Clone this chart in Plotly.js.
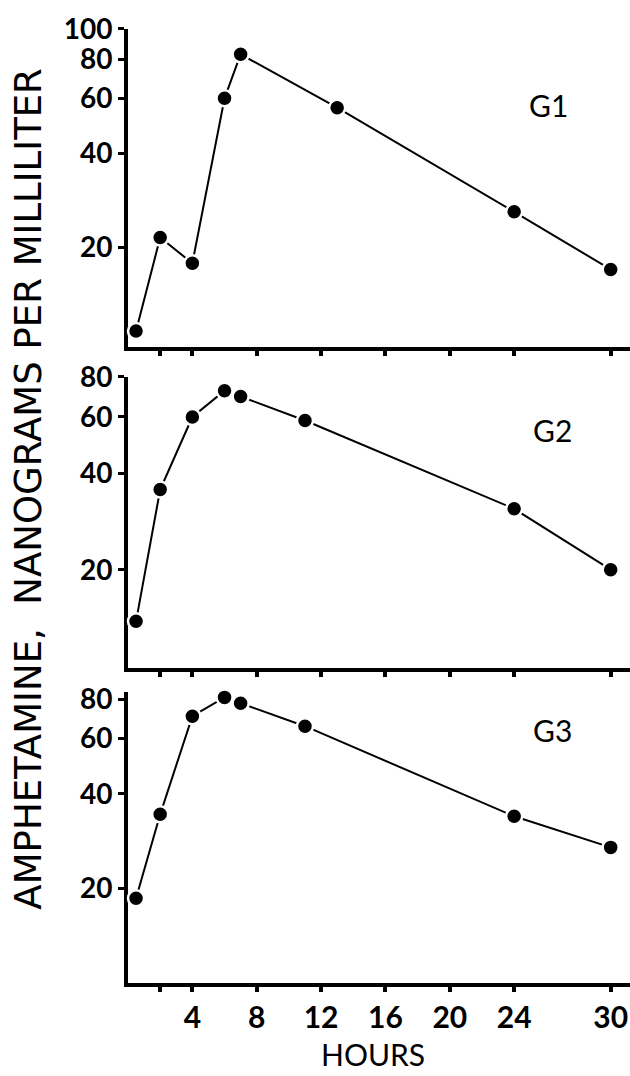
<!DOCTYPE html>
<html>
<head>
<meta charset="utf-8">
<script src="https://cdn.plot.ly/plotly-3.0.1.min.js"></script>
<style>html,body{margin:0;padding:0;background:#fff;}#chart{width:630px;height:1076px;}</style>
</head>
<body>
<div id="chart"></div>
<script>
// Data (hours, ng/mL)
const g1Hours = [0.5, 2, 4, 6, 7, 13, 24, 30];
const g1Values = [10.8, 21.5, 17.8, 60, 83, 56, 26, 17];
const g2Hours = [0.5, 2, 4, 6, 7, 11, 24, 30];
const g2Values = [13.8, 35.6, 60, 72.5, 69.5, 58.5, 31, 20];
const g3Hours = [0.5, 2, 4, 6, 7, 11, 24, 30];
const g3Values = [18.6, 34.4, 70.6, 81, 77.6, 65.6, 33.9, 27];
const groupNames = ["G1", "G2", "G3"];
const xTickVals = [2, 4, 8, 12, 16, 20, 24, 30];
const xTickText = ["", "4", "8", "12", "16", "20", "24", "30"];
const yTickVals1 = [20, 40, 60, 80, 100];
const yTickVals23 = [20, 40, 60, 80];
const yTitle = "AMPHETAMINE,  NANOGRAMS PER MILLILITER";
const xTitle = "HOURS";

const FONT = "Lato, 'DejaVu Sans', sans-serif";
const TITLEFONT = "'DejaVu Sans', sans-serif";
function trace(x, y, xa, ya) {
  return {
    x: x, y: y, xaxis: xa, yaxis: ya, type: "scatter", mode: "lines+markers",
    cliponaxis: false,
    line: {color: "#000", width: 2},
    marker: {color: "#000", size: 16, line: {color: "#fff", width: 2.5}},
    showlegend: false, hoverinfo: "skip"
  };
}
const data = [
  trace(g1Hours, g1Values, "x", "y"),
  trace(g2Hours, g2Values, "x2", "y2"),
  trace(g3Hours, g3Values, "x3", "y3")
];
function xax(showLabels, anchor) {
  return {
    range: [0, 31.2], anchor: anchor, showgrid: false, zeroline: false,
    showline: true, linecolor: "#000", linewidth: 4, layer: "below traces",
    ticks: "outside", ticklen: 5, tickwidth: 4, tickcolor: "#000",
    tickvals: xTickVals, ticktext: showLabels ? xTickText : xTickVals.map(() => ""),
    tickfont: {family: FONT, size: 30, color: "#000", weight: 700}, fixedrange: true
  };
}
function yax(domain, range, vals, anchor) {
  return {
    type: "log", domain: domain, range: range, anchor: anchor, showgrid: false, zeroline: false,
    showline: true, linecolor: "#000", linewidth: 4, layer: "below traces",
    ticks: "outside", ticklen: 6, tickwidth: 3, tickcolor: "#000",
    tickvals: vals, ticktext: vals.map(String),
    tickfont: {family: FONT, size: 28, color: "#000", weight: 700}, fixedrange: true
  };
}
const gFont = {family: FONT, size: 30, color: "#000"};
const layout = {
  width: 630, height: 1076,
  margin: {l: 128, r: 0, t: 0, b: 93},
  paper_bgcolor: "#fff", plot_bgcolor: "rgba(0,0,0,0)",
  xaxis: Object.assign(xax(false, "y"), {domain: [0, 1]}),
  xaxis2: Object.assign(xax(false, "y2"), {domain: [0, 1]}),
  xaxis3: Object.assign(xax(true, "y3"), {domain: [0, 1]}),
  yaxis: yax([0.647, 0.9705], [Math.log10(9.6), 2], yTickVals1, "x"),
  yaxis2: yax([0.3204, 0.6165], [Math.log10(9.86), Math.log10(80)], yTickVals23, "x2"),
  yaxis3: yax([0, 0.2956], [1, Math.log10(84)], yTickVals23, "x3"),
  annotations: [
    {text: groupNames[0], xref: "paper", yref: "paper", x: 0.8367, y: 0.893, showarrow: false, xanchor: "center", yanchor: "middle", font: gFont},
    {text: groupNames[1], xref: "paper", yref: "paper", x: 0.8466, y: 0.5626, showarrow: false, xanchor: "center", yanchor: "middle", font: gFont},
    {text: groupNames[2], xref: "paper", yref: "paper", x: 0.8466, y: 0.2574, showarrow: false, xanchor: "center", yanchor: "middle", font: gFont},
    {text: yTitle, xref: "paper", yref: "paper", x: -0.2, y: 0.5025, textangle: -90, showarrow: false, xanchor: "center", yanchor: "middle", font: {family: TITLEFONT, size: 37, color: "#000"}},
    {text: xTitle, xref: "paper", yref: "paper", x: 0.488, y: -0.072, showarrow: false, xanchor: "center", yanchor: "middle", font: {family: FONT, size: 30, color: "#000"}}
  ]
};
Plotly.newPlot("chart", data, layout, {staticPlot: true, displayModeBar: false});
</script>
</body>
</html>
